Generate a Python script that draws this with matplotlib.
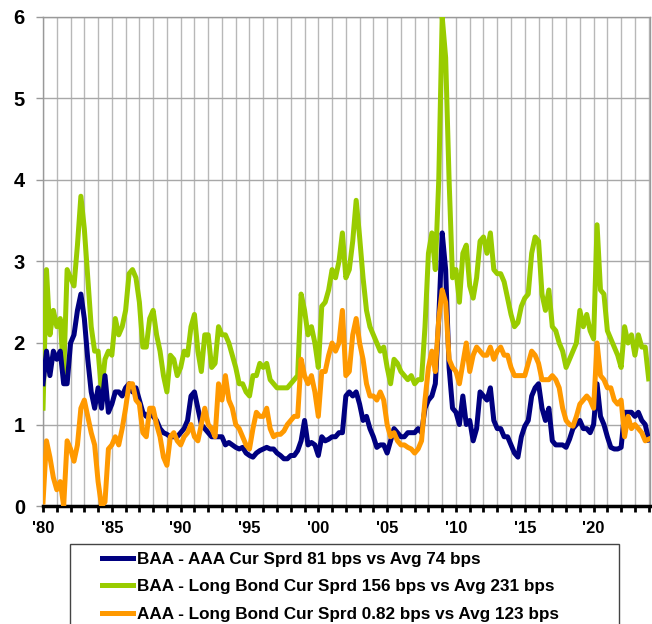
import numpy as np
import matplotlib.pyplot as plt
from matplotlib.patches import Rectangle
from matplotlib.ticker import MultipleLocator

plt.rcParams['font.family'] = ['Liberation Sans', 'DejaVu Sans']

# quarterly observations, 1980Q1 .. 2024Q1
dates = np.arange(1980, 2024.01, 0.25)

baa_aaa = [
    1.5, 1.9, 1.6, 1.9,  1.8, 1.9, 1.5, 1.5,  2.0, 2.1, 2.4, 2.6,  2.3, 1.8, 1.4, 1.2,
    1.45, 1.2, 1.6, 1.15,  1.25, 1.4, 1.4, 1.35,  1.45, 1.5, 1.4, 1.45,  1.3, 1.15, 1.1, 1.15,
    1.1, 1.05, 0.95, 0.9,  0.88, 0.85, 0.85, 0.85,  0.9, 0.95, 1.05, 1.35,  1.4, 1.2, 1.0, 0.95,
    0.9, 0.85, 0.85, 0.85,  0.85, 0.75, 0.78, 0.75,  0.72, 0.7, 0.72, 0.65,  0.62, 0.6, 0.65, 0.68,
    0.7, 0.72, 0.7, 0.7,  0.65, 0.62, 0.58, 0.58,  0.62, 0.62, 0.68, 0.8,  1.05, 0.75, 0.78, 0.75,
    0.62, 0.85, 0.8, 0.82,  0.85, 0.85, 0.9, 0.9,  1.35, 1.4, 1.35, 1.4,  1.25, 1.05, 1.1, 0.95,
    0.85, 0.72, 0.75, 0.75,  0.65, 0.8, 0.95, 0.9,  0.85, 0.85, 0.9, 0.9,  0.9, 0.95, 0.9, 1.2,
    1.3, 1.35, 1.5, 2.3,  3.35, 2.9, 1.7, 1.2,  1.15, 1.0, 1.35, 1.0,  1.05, 0.8, 0.95, 1.4,
    1.35, 1.3, 1.45, 1.05,  0.95, 0.95, 0.85, 0.85,  0.75, 0.65, 0.6, 0.85,  0.98, 1.05, 1.35, 1.45,
    1.5, 1.2, 1.05, 1.2,  0.8, 0.75, 0.75, 0.75,  0.72, 0.82, 0.95, 1.0,  1.05, 0.95, 0.95, 0.9,
    1.0, 1.5, 1.1, 1.0,  0.85, 0.72, 0.7, 0.7,  0.72, 1.15, 1.15, 1.15,  1.1, 1.15, 1.05, 1.0,
    0.81,
]

baa_long = [
    1.2, 2.9, 2.1, 2.4,  2.2, 2.3, 1.6, 2.9,  2.8, 2.7, 3.2, 3.8,  3.4, 2.8, 2.2, 1.9,
    1.9, 1.4, 1.8, 1.9,  1.85, 2.3, 2.1, 2.2,  2.4, 2.85, 2.9, 2.8,  2.5, 1.95, 1.95, 2.3,
    2.4, 2.1, 1.9, 1.6,  1.4, 1.85, 1.8, 1.6,  1.7, 1.9, 1.85, 2.2,  2.35, 1.9, 1.65, 2.1,
    2.1, 1.7, 1.75, 2.2,  2.1, 2.1, 2.0, 1.85,  1.7, 1.5, 1.5, 1.4,  1.35, 1.6, 1.6, 1.75,
    1.7, 1.75, 1.55, 1.5,  1.45, 1.45, 1.45, 1.45,  1.5, 1.55, 1.6, 2.6,  2.4, 2.1, 2.2, 2.0,
    1.7, 2.45, 2.5, 2.65,  2.9, 2.8, 3.0, 3.35,  2.8, 2.9, 3.25, 3.75,  3.3, 2.8, 2.4, 2.2,
    2.1, 2.0, 1.9, 1.95,  1.7, 1.5, 1.8, 1.75,  1.65, 1.6, 1.55, 1.6,  1.5, 1.55, 1.55, 2.2,
    3.1, 3.35, 2.9, 4.0,  6.0, 5.5, 4.0, 2.8,  2.9, 2.5, 3.1, 3.2,  2.7, 2.55, 2.8, 3.25,
    3.3, 3.1, 3.35, 2.9,  2.85, 2.85, 2.75, 2.55,  2.35, 2.2, 2.25, 2.45,  2.55, 2.6, 3.1, 3.3,
    3.25, 2.6, 2.4, 2.65,  2.2, 2.15, 2.0, 1.9,  1.7, 1.8, 1.9, 2.0,  2.4, 2.2, 2.35, 2.15,
    2.05, 3.45, 2.65, 2.6,  2.15, 2.05, 1.95, 1.85,  1.7, 2.2, 2.0, 2.1,  1.85, 2.1, 1.95, 1.95,
    1.56,
]

aaa_long = [
    0.05, 0.8, 0.6, 0.35,  0.2, 0.3, 0.0, 0.8,  0.7, 0.55, 0.75, 1.2,  1.3, 1.1, 0.9, 0.75,
    0.3, 0.0, 0.05, 0.7,  0.75, 0.85, 0.75, 0.95,  1.2, 1.5, 1.5, 1.3,  1.25, 0.9, 0.85, 1.2,
    1.2, 1.0, 0.85, 0.6,  0.5, 0.85, 0.9, 0.8,  0.75, 0.85, 0.9, 1.0,  0.85, 0.8, 1.0, 1.2,
    1.0, 0.95, 0.85, 1.5,  1.3, 1.6, 1.3, 1.2,  1.0, 0.95, 0.85, 0.75,  0.7, 0.95, 1.15, 1.1,
    1.1, 1.2, 0.95, 0.85,  0.88, 0.88, 0.92, 1.0,  1.05, 1.1, 1.1, 1.8,  1.6, 1.5, 1.6, 1.4,
    1.1, 1.65, 1.65, 1.85,  2.0, 1.9, 2.0, 2.4,  1.6, 1.65, 2.1, 2.3,  2.0, 1.8, 1.5, 1.35,
    1.35, 1.3, 1.4, 1.3,  1.0, 0.85, 0.9, 0.8,  0.75, 0.75, 0.72, 0.7,  0.65, 0.7, 0.8, 1.3,
    1.7, 1.9, 1.65, 2.3,  2.65, 2.5, 1.8, 1.7,  1.65, 1.5, 1.75, 2.0,  1.65, 1.85, 1.95, 1.9,
    1.85, 1.85, 1.95, 1.8,  1.9, 1.95, 1.85, 1.85,  1.7, 1.6, 1.6, 1.6,  1.6, 1.75, 1.9, 1.85,
    1.75, 1.55, 1.55, 1.55,  1.6, 1.55, 1.45, 1.2,  1.05, 1.0, 0.98, 1.1,  1.25, 1.3, 1.35, 1.3,
    1.2, 2.0, 1.6, 1.55,  1.45, 1.45, 1.3, 1.25,  1.3, 0.85, 1.1, 0.95,  1.0, 0.95, 0.9, 0.8,
    0.82,
]

labels = [
    'BAA - AAA Cur Sprd 81 bps vs Avg 74 bps',
    'BAA - Long Bond Cur Sprd 156 bps vs Avg 231 bps',
    'AAA - Long Bond Cur Sprd 0.82 bps vs Avg 123 bps',
]

fig = plt.figure(figsize=(6.52, 6.24), dpi=100)
ax = fig.add_axes([0.066, 0.189, 0.931, 0.784])

l_blue, = ax.plot(dates, baa_aaa, color='#000080', lw=3.6, zorder=4)
l_green, = ax.plot(dates, baa_long, color='#99cc00', lw=3.6, zorder=3)
l_orange, = ax.plot(dates, aaa_long, color='#ff9900', lw=3.6, zorder=5)

ax.set_xlim(1980, 2024.1)
ax.set_ylim(0, 6)

# yearly grid, labels every 5 years
ax.xaxis.set_minor_locator(MultipleLocator(1))
ax.set_xticks(np.arange(1980, 2021, 5))
ax.set_xticklabels(["'%02d" % (y % 100) for y in range(1980, 2021, 5)])
ax.set_yticks(range(0, 7))

ax.grid(True, which='both', axis='x', color='#b8b8b8', lw=1)
ax.grid(True, which='major', axis='y', color='#a8a8a8', lw=1)
ax.set_axisbelow(True)

for s in ['left', 'top', 'right']:
    ax.spines[s].set_color('#999999')
    ax.spines[s].set_linewidth(1)
ax.spines['bottom'].set_color('black')
ax.spines['bottom'].set_linewidth(2.5)

ax.tick_params(axis='x', which='both', direction='out', length=4, width=2,
               color='black', pad=7)
ax.tick_params(axis='x', labelsize=12)
ax.tick_params(axis='y', length=5, width=1, color='#999999', labelsize=14.5, pad=8)
for t in ax.get_xticklabels() + ax.get_yticklabels():
    t.set_fontweight('bold')

# legend box runs off the bottom of the figure, as in the original
fig.patches.append(Rectangle((0.1074, -0.05), 0.842, 0.1782, transform=fig.transFigure,
                             facecolor='white', edgecolor='#444444', lw=1, zorder=0))
leg = fig.legend([l_blue, l_green, l_orange], labels,
                 loc='upper left', bbox_to_anchor=(0.1564, 0.116),
                 prop={'weight': 'bold', 'size': 12.3},
                 frameon=False, borderaxespad=0, borderpad=0,
                 handlelength=1.8, handletextpad=0.23, labelspacing=0.74)

fig.savefig('out.png', dpi=100)
